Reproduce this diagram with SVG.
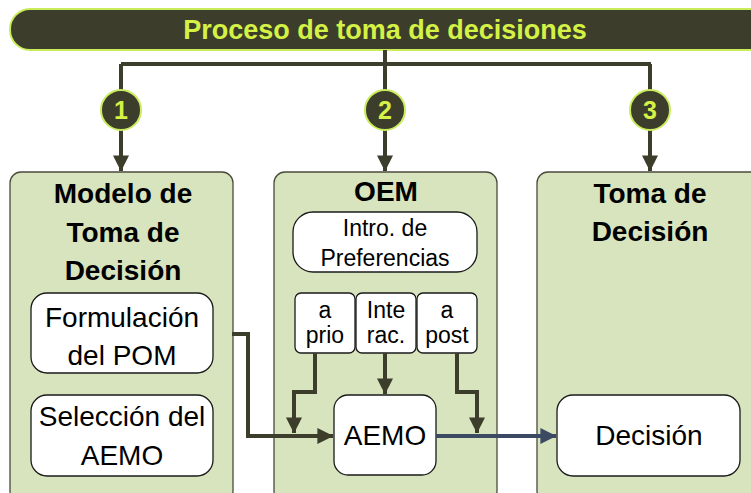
<svg xmlns="http://www.w3.org/2000/svg" width="751" height="493" viewBox="0 0 751 493">
<defs>
<style>
.panel{fill:#d7e4bd;stroke:#4a4a3c;stroke-width:1.3}
.box{fill:#ffffff;stroke:#1a1a1a;stroke-width:1.3}
.t{font-family:"Liberation Sans",Arial,sans-serif;fill:#000;text-anchor:middle}
.h{font-weight:bold;font-size:28px}
.b{font-size:28px}
.s{font-size:23px}
.ln{fill:none;stroke:#3d3d2b;stroke-width:4;stroke-linejoin:miter}
.lb{fill:none;stroke:#3b4a62;stroke-width:4}
.circ{fill:#3d3d2b;stroke:#c8ec5a;stroke-width:2}
.num{font-family:"Liberation Sans",Arial,sans-serif;font-weight:bold;font-size:25px;fill:#d4f245;text-anchor:middle}
</style>
<marker id="ah" markerWidth="4" markerHeight="4" refX="3.9" refY="2" orient="auto" markerUnits="strokeWidth" viewBox="0 0 4 4">
<path d="M0,0 L4,2 L0,4 Z" fill="#3d3d2b"/>
</marker>
<marker id="ahb" markerWidth="4" markerHeight="4" refX="3.9" refY="2" orient="auto" markerUnits="strokeWidth" viewBox="0 0 4 4">
<path d="M0,0 L4,2 L0,4 Z" fill="#3b4a62"/>
</marker>
</defs>
<rect width="751" height="493" fill="#ffffff"/>

<g id="title">
<rect x="10" y="9" width="775" height="41" rx="20" ry="20" fill="#3d3d2b" stroke="#c8ec5a" stroke-width="2"/>
<text x="385" y="39" font-family="'Liberation Sans',Arial,sans-serif" font-weight="bold" font-size="27" fill="#d4f245" text-anchor="middle">Proceso de toma de decisiones</text>
</g>

<g id="connectors">
<path class="ln" d="M385,50 V64 M121,64 H651 M121,64 V92 M385,64 V92 M650,64 V92"/>
<path class="ln" d="M121,128 V171" marker-end="url(#ah)"/>
<path class="ln" d="M385,128 V171" marker-end="url(#ah)"/>
<path class="ln" d="M650,128 V171" marker-end="url(#ah)"/>
</g>

<g id="step1"><circle class="circ" cx="121" cy="110" r="20"/><text class="num" x="121" y="119">1</text></g>
<g id="step2"><circle class="circ" cx="385" cy="110" r="20"/><text class="num" x="385" y="119">2</text></g>
<g id="step3"><circle class="circ" cx="650" cy="110" r="20"/><text class="num" x="650" y="119">3</text></g>

<g id="panel-modelo">
<rect class="panel" x="10" y="172" width="223" height="330" rx="11"/>
<text class="t h" x="123" y="203">Modelo de</text>
<text class="t h" x="123" y="242">Toma de</text>
<text class="t h" x="123" y="280">Decisión</text>
</g>
<g id="panel-oem">
<rect class="panel" x="274" y="172" width="223" height="330" rx="11"/>
<text class="t h" x="386" y="201">OEM</text>
</g>
<g id="panel-toma">
<rect class="panel" x="537" y="172" width="240" height="330" rx="11"/>
<text class="t h" x="650" y="203">Toma de</text>
<text class="t h" x="650" y="241">Decisión</text>
</g>

<g id="formulacion">
<rect class="box" x="31" y="293" width="182" height="80" rx="16"/>
<text class="t b" x="122" y="327" font-size="29">Formulación</text>
<text class="t b" x="122" y="365" font-size="29">del POM</text>
</g>
<g id="seleccion">
<rect class="box" x="31" y="395" width="182" height="81" rx="16"/>
<text class="t b" x="122" y="426">Selección del</text>
<text class="t b" x="122" y="465">AEMO</text>
</g>
<g id="intro">
<rect class="box" x="293" y="212" width="184" height="60" rx="20"/>
<text class="t s" x="385" y="236">Intro. de</text>
<text class="t s" x="385" y="266">Preferencias</text>
</g>
<g id="apriori">
<rect class="box" x="295" y="293" width="60" height="60" rx="6"/>
<text class="t s" x="325" y="318">a</text>
<text class="t s" x="325" y="343">prio</text>
</g>
<g id="interac">
<rect class="box" x="356" y="293" width="60" height="60" rx="6"/>
<text class="t s" x="386" y="318">Inte</text>
<text class="t s" x="386" y="343">rac.</text>
</g>
<g id="aposteriori">
<rect class="box" x="417" y="293" width="60" height="60" rx="6"/>
<text class="t s" x="447" y="318">a</text>
<text class="t s" x="447" y="343">post</text>
</g>
<g id="aemo">
<rect class="box" x="334" y="395" width="102" height="80" rx="14"/>
<text class="t b" x="385" y="445">AEMO</text>
</g>
<g id="decision">
<rect class="box" x="557" y="395" width="183" height="81" rx="16"/>
<text class="t b" x="649" y="445">Decisión</text>
</g>

<g id="connectors-inner">
<path class="ln" d="M232,334 H248 V436 H333" marker-end="url(#ah)"/>
<path class="ln" d="M315,353 V392 H294 V433" marker-end="url(#ah)"/>
<path class="ln" d="M385,353 V394" marker-end="url(#ah)"/>
<path class="ln" d="M457,353 V392 H477 V433" marker-end="url(#ah)"/>
<path class="lb" d="M436,436 H556" marker-end="url(#ahb)"/>
</g>
</svg>
